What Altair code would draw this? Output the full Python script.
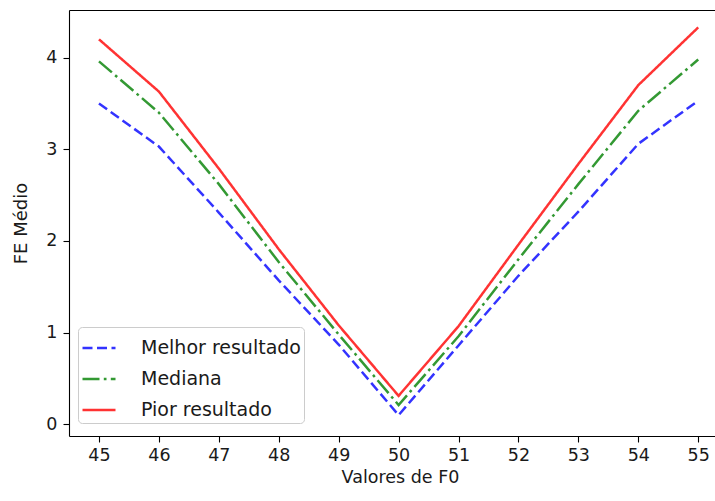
import altair as alt
import pandas as pd

# ---- data ----
f0 = [45, 46, 47, 48, 49, 50, 51, 52, 53, 54, 55]
melhor = [3.50, 3.03, 2.31, 1.57, 0.87, 0.10, 0.86, 1.62, 2.32, 3.06, 3.53]
mediana = [3.96, 3.40, 2.62, 1.77, 0.98, 0.21, 0.96, 1.80, 2.62, 3.42, 3.98]
pior = [4.20, 3.63, 2.79, 1.91, 1.08, 0.31, 1.07, 1.96, 2.84, 3.70, 4.33]
series_names = ["Melhor resultado", "Mediana", "Pior resultado"]
x_ticks = [45, 46, 47, 48, 49, 50, 51, 52, 53, 54, 55]
y_ticks = [0, 1, 2, 3, 4]

colors = ["#0000ff", "#008000", "#ff0000"]
dashes = [[10, 4.5], [17, 4.3, 2.7, 4.3], [1, 0]]

rows = []
for name, vals in zip(series_names, [melhor, mediana, pior]):
    for xv, yv in zip(f0, vals):
        rows.append({"F0": xv, "FE": yv, "serie": name})
df = pd.DataFrame(rows)

FONT = "DejaVu Sans"
TXT = "#1a1a1a"

xscale = alt.Scale(domain=[44.5, 55.28], nice=False, zero=False)
yscale = alt.Scale(domain=[-0.128, 4.52], nice=False, zero=False)

legend = alt.Legend(
    title=None, orient="none", legendX=9, legendY=317,
    symbolType="stroke", symbolSize=1089, symbolStrokeWidth=2.5, symbolOpacity=0.8,
    labelFont=FONT, labelFontSize=19, labelColor=TXT, labelOffset=24,
    padding=3, rowPadding=3, strokeColor="#cccccc", fillColor="white",
    cornerRadius=4,
)

lines = alt.Chart(df).mark_line(strokeWidth=2.5, opacity=0.8).encode(
    x=alt.X("F0:Q", scale=xscale,
            axis=alt.Axis(values=x_ticks, format="d", title="Valores de F0",
                          titleX=331, titleY=41, titleBaseline="middle",
                          titleAlign="center")),
    y=alt.Y("FE:Q", scale=yscale,
            axis=alt.Axis(values=y_ticks, format="d", title="FE Médio",
                          titleX=-48, titleY=213, titleAngle=270,
                          titleBaseline="middle", titleAlign="center")),
    color=alt.Color("serie:N", scale=alt.Scale(domain=series_names, range=colors),
                    legend=legend),
    strokeDash=alt.StrokeDash("serie:N", scale=alt.Scale(domain=series_names, range=dashes),
                              legend=legend),
    detail="serie:N",
)

top = alt.Chart(df).mark_line(opacity=0).encode(
    x=alt.X("F0:Q", scale=xscale,
            axis=alt.Axis(orient="top", labels=False, ticks=False, title=None,
                          domain=True, grid=False)),
    y=alt.Y("FE:Q", scale=yscale, axis=None),
)

chart = alt.layer(lines, top).resolve_axis(x="independent", y="independent").properties(
    width=646, height=426,
    padding={"left": 69, "top": 10, "right": 0, "bottom": 65},
    autosize=alt.AutoSizeParams(type="none"),
).configure_view(stroke=None).configure_axis(
    grid=False, domainColor="#000", domainWidth=1.1, tickColor="#000", tickSize=6,
    tickWidth=1.1, labelFont=FONT, labelFontSize=17.5, labelColor=TXT,
    titleFont=FONT, titleFontSize=17.5, titleColor=TXT, titleFontWeight="normal",
    labelPadding=4,
).configure_axisY(labelPadding=6, titleFontSize=18)

chart.save("out.html", embed_options={"renderer": "svg", "actions": False})
